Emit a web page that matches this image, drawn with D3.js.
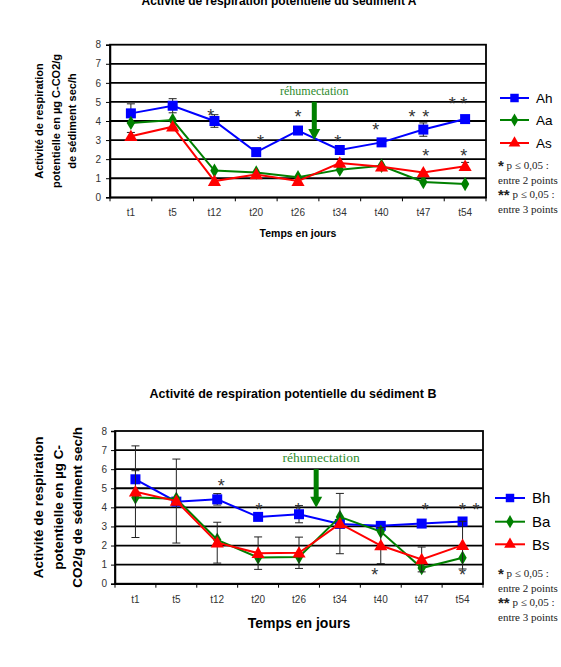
<!DOCTYPE html>
<html><head><meta charset="utf-8">
<script src="https://cdn.jsdelivr.net/npm/d3@7"></script>
<style>
html,body{margin:0;padding:0;background:#fff;}
svg{display:block;}
</style></head>
<body>
<svg id="chart" width="561" height="667"></svg>
<script>
// ---------- DATA ----------
const categories = ["t1","t5","t12","t20","t26","t34","t40","t47","t54"];
const yTicks = [0,1,2,3,4,5,6,7,8];

const seriesNamesA = ["Ah","Aa","As"];
const valuesAh = [4.4, 4.8, 4.0, 2.37, 3.5, 2.48, 2.88, 3.55, 4.1];
const valuesAa = [3.9, 4.05, 1.4, 1.3, 1.05, 1.45, 1.65, 0.8, 0.7];
const valuesAs = [3.2, 3.7, 0.85, 1.2, 0.85, 1.8, 1.6, 1.3, 1.63];
const errorsAh = [0.5, 0.37, 0.33, null, null, null, null, 0.35, null];
const errorsAa = [null, null, null, null, null, null, null, null, null];
const errorsAs = [0.2, null, null, null, null, null, null, null, 0.2];

const seriesNamesB = ["Bh","Ba","Bs"];
const valuesBh = [5.47, 4.3, 4.42, 3.5, 3.64, 3.13, 3.03, 3.15, 3.26];
const valuesBa = [4.52, 4.45, 2.3, 1.37, 1.4, 3.5, 2.73, 0.82, 1.36];
const valuesBs = [4.82, 4.33, 2.15, 1.6, 1.62, 3.15, 2.0, 1.27, 2.02];
const errorsBh = [0.45, null, 0.3, null, 0.45, null, null, null, null];
const errorsBa = [null, null, null, null, null, null, null, null, null];
const errorsBs = [2.4, 2.2, 1.07, 0.85, 0.82, 1.58, 0.95, 0.65, 1.25];

// significance stars: category, value level, offset (fraction of band)
const starsA = [
  {cat:"t12", v:4.47, off:-0.09}, {cat:"t20", v:3.11, off:0.1},
  {cat:"t26", v:4.42, off:0}, {cat:"t34", v:3.11, off:-0.05},
  {cat:"t40", v:3.74, off:-0.14}, {cat:"t47", v:4.42, off:-0.27},
  {cat:"t47", v:4.42, off:0.06}, {cat:"t54", v:5.1, off:-0.31},
  {cat:"t54", v:5.1, off:-0.03}, {cat:"t47", v:2.37, off:0.06},
  {cat:"t54", v:2.37, off:-0.03}
];
const starsB = [
  {cat:"t12", v:5.33, off:0.1}, {cat:"t20", v:4.07, off:0.02},
  {cat:"t26", v:4.07, off:-0.02}, {cat:"t40", v:0.67, off:-0.15},
  {cat:"t47", v:4.07, off:0.09}, {cat:"t54", v:4.07, off:0.0},
  {cat:"t54", v:4.07, off:0.33}, {cat:"t54", v:0.67, off:0.0}
];
const rehumLabel = "réhumectation";
const titleA = "Activité de respiration potentielle du sédiment A";
const titleB = "Activité de respiration potentielle du sédiment B";
const yLabelA = ["Activité de respiration", "potentielle en µg C-CO2/g", "de sédiment sec/h"];
const yLabelB = ["Activité de respiration", "potentielle en µg C-", "CO2/g de sédiment sec/h"];
const xLabel = "Temps en jours";
const footnote = [["*", " p ≤ 0,05 :"], ["", "entre 2 points"], ["**", " p ≤ 0,05 :"], ["", "entre 3 points"]];

// ---------- DRAW ----------
const svg = d3.select("#chart");
const SANS = "'Liberation Sans', Arial, sans-serif";
const SERIF = "'Liberation Serif', 'Times New Roman', serif";
const colors = ["#0000FF", "#008000", "#FF0000"];
const markers = [d3.symbolSquare, d3.symbolDiamond, d3.symbolTriangle];

function drawChart(cfg) {
  const g = svg.append("g");
  const x = d3.scaleBand().domain(categories).range([cfg.left, cfg.right]).padding(0);
  const y = d3.scaleLinear().domain([0, 8]).range([cfg.bottom, cfg.top]);
  const cx = c => x(c) + x.bandwidth() / 2;

  // title
  g.append("text").attr("x", cfg.titleX).attr("y", cfg.titleY)
    .attr("text-anchor", "middle").attr("font-family", SANS).attr("font-weight", "bold")
    .attr("font-size", cfg.titleSize).attr("fill", "#000").text(cfg.title);

  // gridlines
  g.selectAll(".grid").data(yTicks.filter(t => t > 0 && t < 8)).join("line")
    .attr("x1", cfg.left).attr("x2", cfg.right)
    .attr("y1", d => y(d)).attr("y2", d => y(d))
    .attr("stroke", "#000").attr("stroke-width", 1.8);

  // frame
  g.append("rect").attr("x", cfg.left).attr("y", cfg.top)
    .attr("width", cfg.right - cfg.left).attr("height", cfg.bottom - cfg.top)
    .attr("fill", "none").attr("stroke", "#000").attr("stroke-width", 1.8);

  // y axis
  const ya = g.append("g").attr("transform", `translate(${cfg.left},0)`)
    .call(d3.axisLeft(y).tickValues(yTicks).tickSize(4).tickPadding(cfg.yPad).tickFormat(d3.format("d")));
  ya.select(".domain").attr("stroke", "#000").attr("stroke-width", 1.5);
  ya.selectAll(".tick line").attr("stroke", "#000");
  ya.selectAll("text").attr("font-family", SANS).attr("font-size", cfg.tickSize).attr("fill", "#333");

  // x axis
  const xa = g.append("g").attr("transform", `translate(0,${cfg.bottom})`)
    .call(d3.axisBottom(x).tickSize(0).tickPadding(cfg.xPad));
  xa.select(".domain").attr("stroke", "#000").attr("stroke-width", 1.5);
  xa.selectAll("text").attr("font-family", SANS).attr("font-size", cfg.tickSize).attr("fill", "#333");
  const bounds = categories.map(c => x(c)).concat([x(categories[categories.length - 1]) + x.bandwidth()]);
  g.selectAll(".xtick").data(bounds).join("line")
    .attr("x1", d => d).attr("x2", d => d).attr("y1", cfg.bottom).attr("y2", cfg.bottom + 4)
    .attr("stroke", "#000").attr("stroke-width", 1);

  // x label
  g.append("text").attr("x", cfg.xLabelX).attr("y", cfg.xLabelY).attr("text-anchor", "middle")
    .attr("font-family", SANS).attr("font-weight", "bold").attr("font-size", cfg.xLabelSize)
    .attr("fill", "#000").text(xLabel);

  // y label
  cfg.yLabel.forEach((line, i) => {
    g.append("text").attr("transform", `translate(${cfg.yLabelX[i]},${(cfg.top + cfg.bottom) / 2}) rotate(-90)`)
      .attr("text-anchor", "middle").attr("dy", "0.35em")
      .attr("font-family", SANS).attr("font-weight", "bold").attr("font-size", cfg.yLabelSize)
      .attr("fill", "#000").text(line);
  });

  // series
  cfg.series.forEach((s, si) => {
    const pts = categories.map((c, i) => ({c, v: s.values[i], e: s.errors[i]}));
    pts.filter(p => p.e != null).forEach(p => {
      const xx = cx(p.c);
      g.append("line").attr("x1", xx).attr("x2", xx).attr("y1", y(p.v + p.e)).attr("y2", y(p.v - p.e))
        .attr("stroke", "#222").attr("stroke-width", 1);
      [p.v + p.e, p.v - p.e].forEach(vv => {
        g.append("line").attr("x1", xx - 4).attr("x2", xx + 4).attr("y1", y(vv)).attr("y2", y(vv))
          .attr("stroke", "#222").attr("stroke-width", 1);
      });
    });
    g.append("path").datum(pts)
      .attr("d", d3.line().x(p => cx(p.c)).y(p => y(p.v)))
      .attr("fill", "none").attr("stroke", colors[si]).attr("stroke-width", 2);
    g.selectAll(null).data(pts).join("path")
      .attr("transform", p => `translate(${cx(p.c)},${y(p.v) + (si === 2 ? 1 : 0)})`)
      .attr("d", d3.symbol().type(markers[si]).size(si === 0 ? 100 : (si === 1 ? 60 : 75)))
      .attr("fill", colors[si]);
  });

  // stars
  g.selectAll(null).data(cfg.stars).join("text")
    .attr("x", d => cx(d.cat) + d.off * x.bandwidth())
    .attr("y", d => y(d.v) + 0.57 * cfg.starSize)
    .attr("text-anchor", "middle").attr("font-family", SANS).attr("font-size", cfg.starSize)
    .attr("fill", "#333").text("*");

  // rehumectation arrow
  const ax = cx("t26") + cfg.arrowOff * x.bandwidth();
  const yTop = y(cfg.arrowTop), yTip = y(cfg.arrowTip);
  g.append("rect").attr("x", ax - 2.5).attr("y", yTop).attr("width", 5).attr("height", yTip - yTop - 10)
    .attr("fill", "#008000");
  g.append("path").attr("d", `M${ax - 6},${yTip - 11} L${ax + 6},${yTip - 11} L${ax},${yTip} Z`).attr("fill", "#008000");
  g.append("text").attr("x", ax + cfg.rehumDx).attr("y", y(cfg.rehumV)).attr("text-anchor", "middle")
    .attr("font-family", SERIF).attr("font-size", cfg.rehumSize).attr("fill", "#2e8b2e").text(rehumLabel);

  // legend
  cfg.seriesNames.forEach((name, si) => {
    const ly = cfg.legendY[si];
    g.append("line").attr("x1", cfg.legendX).attr("x2", cfg.legendX + cfg.legendLen)
      .attr("y1", ly).attr("y2", ly).attr("stroke", colors[si]).attr("stroke-width", 2);
    g.append("path").attr("transform", `translate(${cfg.legendX + cfg.legendLen / 2},${ly})`)
      .attr("d", d3.symbol().type(markers[si]).size(si === 0 ? 72 : (si === 1 ? 50 : 60))).attr("fill", colors[si]);
    g.append("text").attr("x", cfg.legendX + cfg.legendLen + 7).attr("y", ly).attr("dy", "0.36em")
      .attr("font-family", SANS).attr("font-size", cfg.legendSize).attr("fill", "#000").text(name);
  });

  // footnote
  footnote.forEach((f, i) => {
    const t = g.append("text").attr("x", cfg.footX).attr("y", cfg.footY + i * cfg.footStep)
      .attr("font-family", SERIF).attr("font-size", 11).attr("fill", "#222");
    if (f[0]) t.append("tspan").attr("font-family", SANS).attr("font-weight", "bold").attr("font-size", 15)
      .attr("dy", 2).text(f[0]);
    if (f[0]) t.append("tspan").attr("dy", -2).text(f[1]); else t.append("tspan").text(f[1]);
  });
}

drawChart({
  left: 110, right: 486, top: 44.7, bottom: 197.3,
  title: titleA, titleX: 279, titleY: 5, titleSize: 12,
  yPad: 5, xPad: 12, tickSize: 10,
  xLabelX: 298, xLabelY: 237, xLabelSize: 10.5,
  yLabel: yLabelA, yLabelX: [39, 56, 72], yLabelSize: 11,
  series: [{values: valuesAh, errors: errorsAh}, {values: valuesAa, errors: errorsAa}, {values: valuesAs, errors: errorsAs}],
  seriesNames: seriesNamesA,
  stars: starsA, starSize: 18,
  arrowOff: 0.39, arrowTop: 5.01, arrowTip: 3.0, rehumV: 5.38, rehumDx: 0, rehumSize: 12,
  legendX: 500, legendLen: 29, legendY: [98, 120, 143], legendSize: 13.5,
  footX: 498, footY: 169, footStep: 14.7
});

drawChart({
  left: 115, right: 483, top: 431, bottom: 583.7,
  title: titleB, titleX: 293, titleY: 398, titleSize: 12.5,
  yPad: 4, xPad: 12, tickSize: 10,
  xLabelX: 299, xLabelY: 628, xLabelSize: 14,
  yLabel: yLabelB, yLabelX: [38, 58, 77], yLabelSize: 13.5,
  series: [{values: valuesBh, errors: errorsBh}, {values: valuesBa, errors: errorsBa}, {values: valuesBs, errors: errorsBs}],
  seriesNames: seriesNamesB,
  stars: starsB, starSize: 18,
  arrowOff: 0.42, arrowTop: 6.0, arrowTip: 3.98, rehumV: 6.38, rehumDx: 5, rehumSize: 13.5,
  legendX: 495, legendLen: 30, legendY: [498, 521.7, 544.3], legendSize: 15,
  footX: 498, footY: 577, footStep: 14.5
});
</script>
</body></html>
